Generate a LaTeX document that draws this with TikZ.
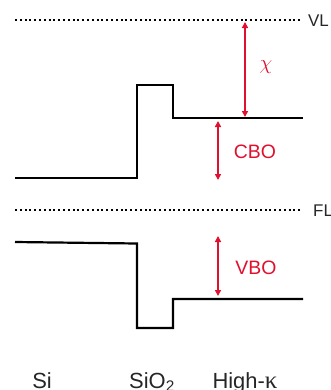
\documentclass[tikz,border=0pt]{standalone}
\usepackage{fontspec}
\setmainfont{Liberation Sans}
\newfontfamily\greekserif{Liberation Serif}
\usetikzlibrary{arrows.meta}
\definecolor{bandred}{HTML}{E0102F}
\definecolor{labgray}{HTML}{262626}
\begin{document}
\begin{tikzpicture}[x=1bp,y=-1bp,
  band/.style={line width=2.2bp,black,line join=miter},
  level/.style={line width=2bp,dash pattern=on 2bp off 2.8bp,black},
  offset/.style={line width=2bp,bandred,{Triangle[width=6bp,length=6bp]}-{Triangle[width=6bp,length=6bp]}},
  redlab/.style={text=bandred,font=\fontsize{19.5}{20}\selectfont,inner sep=0pt},
  lvllab/.style={text=labgray,font=\fontsize{17}{18}\selectfont,inner sep=0pt,anchor=west},
  matlab/.style={text=labgray,font=\fontsize{22}{24}\selectfont,inner sep=0pt,anchor=base}]
\useasboundingbox (0,0) rectangle (331,390);
\fill[white] (0,0) rectangle (331,390);
% named points
\coordinate (vl1) at (15,20);  \coordinate (vl2) at (303,20);
\coordinate (fl1) at (15,210); \coordinate (fl2) at (303,210);
\coordinate (c1) at (15,178);  \coordinate (c2) at (137,178);
\coordinate (c3) at (137,85);  \coordinate (c4) at (173,85);
\coordinate (c5) at (173,118); \coordinate (c6) at (303,118);
\coordinate (v1) at (15,242);  \coordinate (v2) at (137,243.5);
\coordinate (v3) at (137,328); \coordinate (v4) at (173,328);
\coordinate (v5) at (173,299); \coordinate (v6) at (303,299);
\coordinate (chiT) at (245,22);  \coordinate (chiB) at (245,117);
\coordinate (cboT) at (218,121); \coordinate (cboB) at (218,180);
\coordinate (vboT) at (218,236); \coordinate (vboB) at (218,296);
% levels
\draw[level] (vl1) -- (vl2);
\draw[level] (fl1) -- (fl2);
\node[lvllab] (VL) at (308,21) {VL};
\node[lvllab] (FL) at (313,211) {FL};
% bands
\draw[band] (c1) -- (c2) -- (c3) -- (c4) -- (c5) -- (c6);
\draw[band] (v1) -- (v2) -- (v3) -- (v4) -- (v5) -- (v6);
% offsets
\draw[offset] (chiT) -- (chiB);
\draw[offset] (cboT) -- (cboB);
\draw[offset] (vboT) -- (vboB);
\node[redlab] (chi) at (266,67) {\fontsize{21}{22}\selectfont$\chi$};
\node[redlab] (cbo) at (255,152) {CBO};
\node[redlab] (vbo) at (256,268) {VBO};
% materials
\node[matlab] (si) at (42,388) {Si};
\node[matlab] (sio) at (152,388) {SiO\textsubscript{2}};
\node[matlab] (hk) at (245,388) {High-{\greekserif\fontsize{25}{26}\selectfont κ}};
\end{tikzpicture}
\end{document}
